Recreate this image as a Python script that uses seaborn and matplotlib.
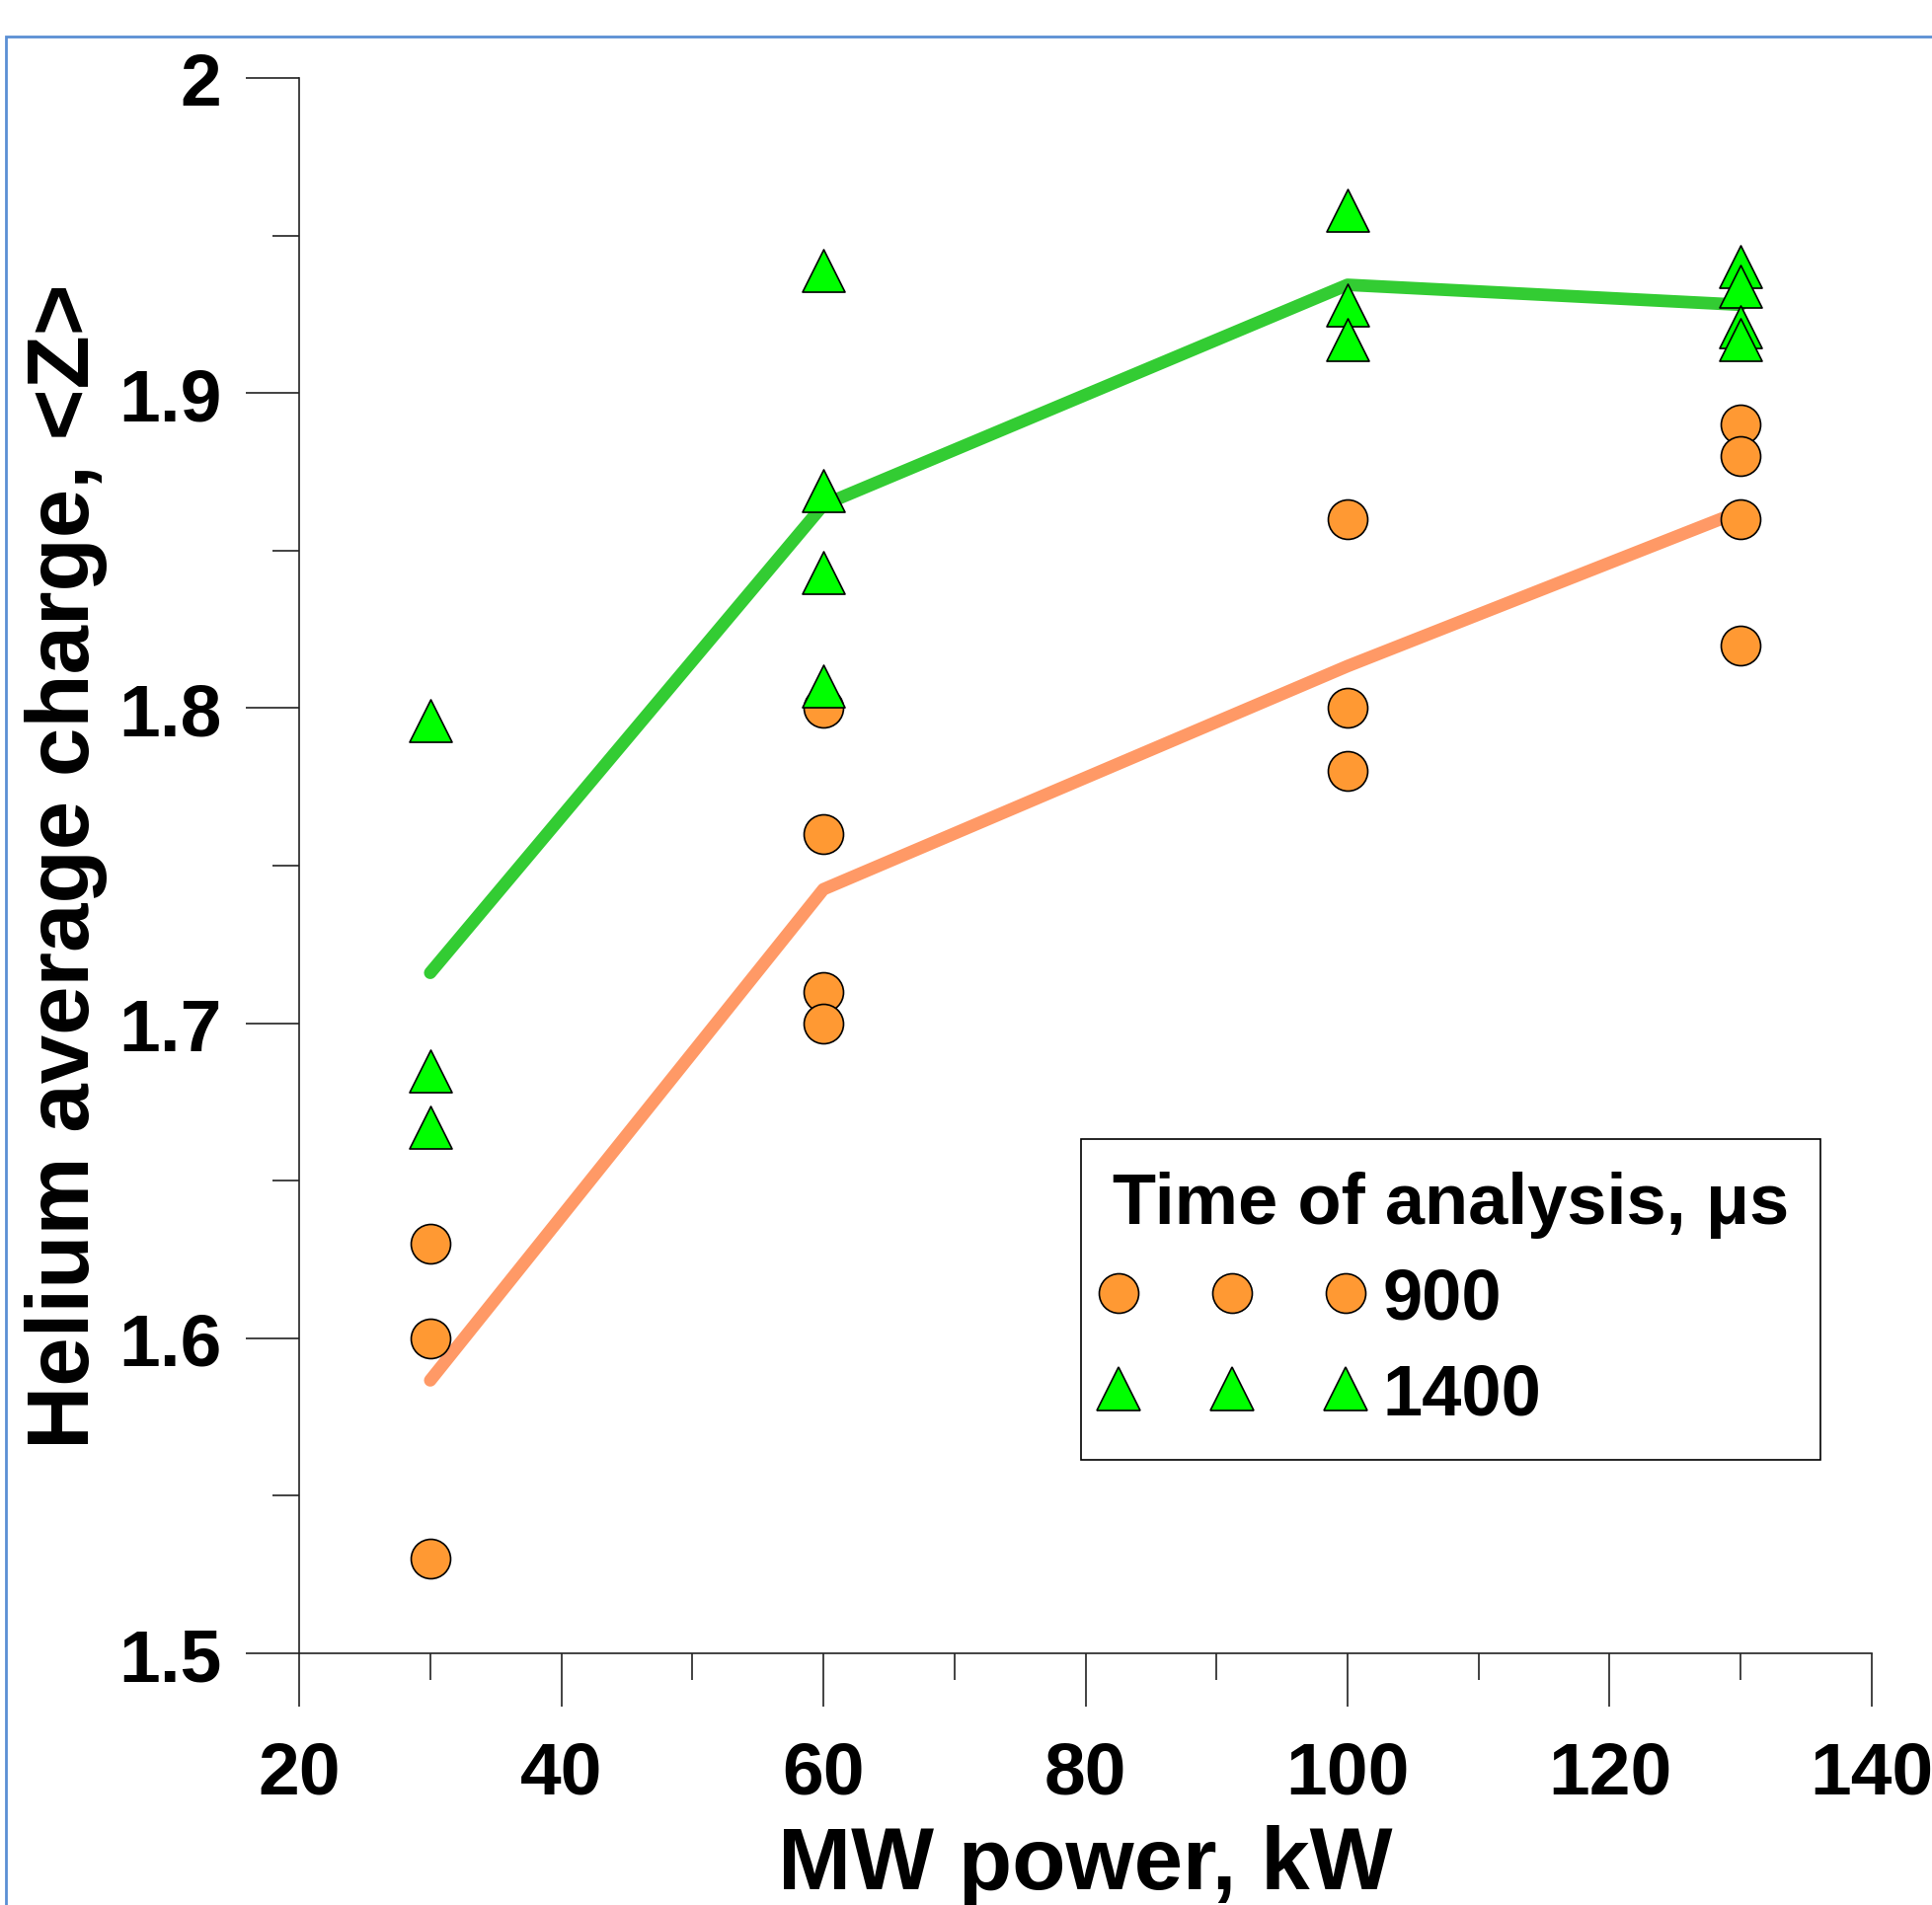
import matplotlib
matplotlib.use("Agg")
import matplotlib.pyplot as plt
import matplotlib.patches as mpatches
from matplotlib.lines import Line2D
from matplotlib.legend_handler import HandlerLine2D
from matplotlib.ticker import MultipleLocator, StrMethodFormatter
import seaborn as sns
import pandas as pd

# MW power (kW) and helium average charge <Z> for each time of analysis
power_900 = [30, 30, 30, 60, 60, 60, 60, 100, 100, 100, 130, 130, 130, 130]
charge_900 = [1.63, 1.60, 1.53, 1.80, 1.76, 1.71, 1.70, 1.86, 1.80, 1.78, 1.89, 1.88, 1.86, 1.82]

power_1400 = [30, 30, 30, 60, 60, 60, 60, 100, 100, 100, 130, 130, 130, 130]
charge_1400 = [1.796, 1.685, 1.667, 1.939, 1.869, 1.843, 1.807, 1.958, 1.928, 1.917,
               1.940, 1.934, 1.921, 1.917]

time_labels = ["900", "1400"]
line_colors = {"900": "#FF9966", "1400": "#33CC33"}
marker_colors = {"900": "#FF9933", "1400": "#00FF00"}

df = pd.concat([
    pd.DataFrame({"power": power_900, "charge": charge_900, "time": "900"}),
    pd.DataFrame({"power": power_1400, "charge": charge_1400, "time": "1400"}),
], ignore_index=True)

sns.set_style("ticks")
plt.rcParams["font.family"] = ["Liberation Sans", "DejaVu Sans"]
plt.rcParams["font.weight"] = "bold"
plt.rcParams["text.color"] = "black"
plt.rcParams["axes.labelcolor"] = "black"
plt.rcParams["xtick.color"] = "black"
plt.rcParams["ytick.color"] = "black"

fig = plt.figure(figsize=(9.79, 9.655), dpi=200)
ax = fig.add_axes([0.1548, 0.132, 0.8135, 0.8266])

# mean lines
sns.lineplot(data=df, x="power", y="charge", hue="time", hue_order=time_labels,
             palette=line_colors, estimator="mean", errorbar=None, legend=False,
             linewidth=4.6, ax=ax, zorder=2)

sns.scatterplot(data=df[df.time == "900"], x="power", y="charge", marker="o",
                color=marker_colors["900"], edgecolor="black", linewidth=0.6,
                s=207, legend=False, ax=ax, zorder=3)
sns.scatterplot(data=df[df.time == "1400"], x="power", y="charge", marker="^",
                color=marker_colors["1400"], edgecolor="black", linewidth=0.6,
                s=240, legend=False, ax=ax, zorder=4)

ax.set_xlim(20, 140)
ax.set_ylim(1.5, 2.0)
ax.xaxis.set_major_locator(MultipleLocator(20))
ax.xaxis.set_minor_locator(MultipleLocator(10))
ax.yaxis.set_major_locator(MultipleLocator(0.1))
ax.yaxis.set_minor_locator(MultipleLocator(0.05))
ax.yaxis.set_major_formatter(StrMethodFormatter("{x:g}"))

sns.despine(ax=ax)
for side in ["left", "bottom"]:
    ax.spines[side].set_linewidth(0.6)
    ax.spines[side].set_color("#222222")

ax.tick_params(axis="both", which="major", direction="out", length=19.4, width=0.6,
               color="#222222", labelsize=27)
ax.tick_params(axis="both", which="minor", direction="out", length=9.7, width=0.6,
               color="#222222")
ax.tick_params(axis="x", which="major", pad=12)
ax.tick_params(axis="y", which="major", pad=9)
for lab in ax.get_xticklabels() + ax.get_yticklabels():
    lab.set_fontweight("bold")

ax.set_xlabel("MW power, kW", fontsize=32, fontweight="bold", labelpad=6)
ax.set_ylabel("Helium average charge, <Z>", fontsize=32, fontweight="bold", labelpad=4)

handles = [
    Line2D([], [], marker="o", ls="none", mfc=marker_colors["900"], mec="black",
           mew=0.6, ms=14.4),
    Line2D([], [], marker="^", ls="none", mfc=marker_colors["1400"], mec="black",
           mew=0.6, ms=15.5),
]
leg = ax.legend(handles, time_labels, title="Time of analysis, μs", numpoints=3,
                loc="lower right", bbox_to_anchor=(0.9674, 0.1228), borderaxespad=0,
                fontsize=26, title_fontsize=26, handlelength=3.35, handletextpad=0.44,
                labelspacing=0.40, borderpad=0.44, fancybox=False, framealpha=1,
                alignment="left", handler_map={Line2D: HandlerLine2D(marker_pad=0.08)})
leg.get_frame().set_edgecolor("black")
leg.get_frame().set_linewidth(0.6)
leg.get_title().set_fontweight("bold")
for t in leg.get_texts():
    t.set_fontweight("bold")

# thin blue frame around the figure
fig.patches.append(mpatches.Rectangle((0.003, -0.1), 1.5, 1.0803, transform=fig.transFigure,
                                      fill=False, edgecolor="#5B8FD4", linewidth=1.0))

fig.savefig("out.png", dpi=200)
